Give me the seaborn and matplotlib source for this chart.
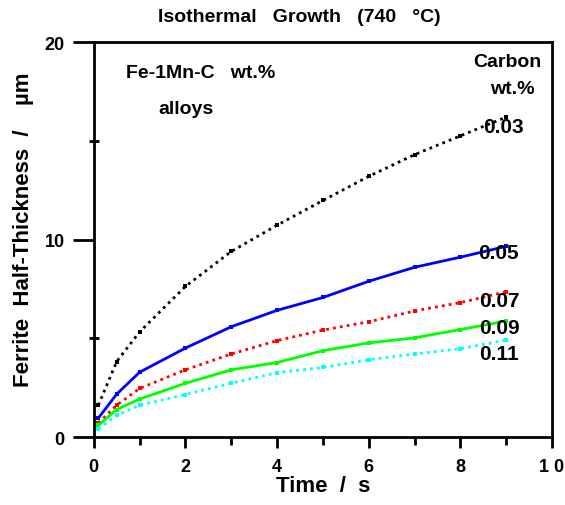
import matplotlib
matplotlib.use("Agg")
import matplotlib.pyplot as plt
import seaborn as sns
import pandas as pd
from matplotlib.ticker import MultipleLocator

# data
time_s = [0.1, 0.5, 1, 2, 3, 4, 5, 6, 7, 8, 9]
carbon = ["0.03", "0.05", "0.07", "0.09", "0.11"]
c003 = [1.62, 3.83, 5.33, 7.63, 9.40, 10.73, 11.98, 13.20, 14.30, 15.25, 16.20]
c005 = [0.97, 2.18, 3.29, 4.51, 5.59, 6.42, 7.07, 7.89, 8.60, 9.11, 9.66]
c007 = [0.72, 1.62, 2.47, 3.41, 4.21, 4.89, 5.42, 5.84, 6.39, 6.81, 7.36]
c009 = [0.60, 1.40, 1.93, 2.73, 3.41, 3.78, 4.38, 4.77, 5.03, 5.45, 5.88]
c011 = [0.43, 1.11, 1.62, 2.16, 2.73, 3.27, 3.53, 3.92, 4.21, 4.48, 4.91]
x_ticklabels = ["0", "2", "4", "6", "8", "1 0"]

series = [c003, c005, c007, c009, c011]
rows = []
for c, vals in zip(carbon, series):
    for t, v in zip(time_s, vals):
        rows.append({"time": t, "thick": v, "carbon": c})
df = pd.DataFrame(rows)

sns.set_style("ticks")
plt.rcParams['font.family'] = ['Liberation Sans', 'DejaVu Sans']
plt.rcParams['font.weight'] = 'bold'
for k in ['text.color', 'axes.labelcolor', 'xtick.color', 'ytick.color',
          'axes.edgecolor']:
    plt.rcParams[k] = 'black'

fig = plt.figure(figsize=(5.65, 5.06), dpi=100)
ax = fig.add_axes([0.166, 0.134, 0.811, 0.781])

palette = {"0.03": "black", "0.05": "#0000ff", "0.07": "#ff0000",
           "0.09": "#00ff00", "0.11": "#00ffff"}
dashes = {"0.03": (1, 1.5), "0.05": "", "0.07": (1, 1.5),
          "0.09": "", "0.11": (1, 1.5)}
sns.lineplot(data=df, x="time", y="thick", hue="carbon", style="carbon",
             palette=palette, dashes=dashes, markers={c: "s" for c in carbon},
             markersize=3, markeredgewidth=0, linewidth=2, legend=False, ax=ax)

ax.set_xlim(0, 10)
ax.set_ylim(0, 20)
ax.xaxis.set_minor_locator(MultipleLocator(1))
ax.yaxis.set_major_locator(MultipleLocator(10))
ax.yaxis.set_minor_locator(MultipleLocator(5))
ax.set_xticks([0, 2, 4, 6, 8, 10])
ax.set_xticklabels(x_ticklabels)
for s in ax.spines.values():
    s.set_linewidth(2)
    s.set_visible(True)
ax.tick_params(axis='x', which='major', direction='out', length=8, width=2,
               labelsize=13, pad=7)
ax.tick_params(axis='x', which='minor', direction='out', length=6, width=2)
ax.tick_params(axis='y', which='major', direction='out', length=15, width=2,
               labelsize=13, pad=6)
ax.tick_params(axis='y', which='minor', direction='inout', length=7, width=2)
for lab in ax.get_xticklabels() + ax.get_yticklabels():
    lab.set_fontweight('bold')

ax.set_xlabel("Time  /  s", fontsize=16, fontweight='bold', labelpad=0)
ax.set_ylabel("Ferrite  Half-Thickness  /    µm", fontsize=16,
              fontweight='bold')
ax.yaxis.set_label_coords(-0.13, 0.528)
fig.text(0.53, 0.966, "Isothermal   Growth   (740   °C)", fontsize=14,
         fontweight='bold', ha='center', va='center')

tk = dict(fontsize=14, fontweight='bold', va='center')
ax.text(0.70, 18.45, "Fe-1Mn-C   wt.%", **tk)
ax.text(1.42, 16.66, "alloys", **tk)
ax.text(9.78, 19.0, "Carbon", ha='right', **tk)
ax.text(9.62, 17.65, "wt.%", ha='right', **tk)
lab_pos = [(8.49, 15.7), (8.38, 9.37), (8.42, 6.94), (8.42, 5.57), (8.42, 4.25)]
for c, (lx, ly) in zip(carbon, lab_pos):
    ax.text(lx, ly, c, fontsize=15, fontweight='bold', va='center', ha='left')

fig.savefig("out.png", dpi=100)
